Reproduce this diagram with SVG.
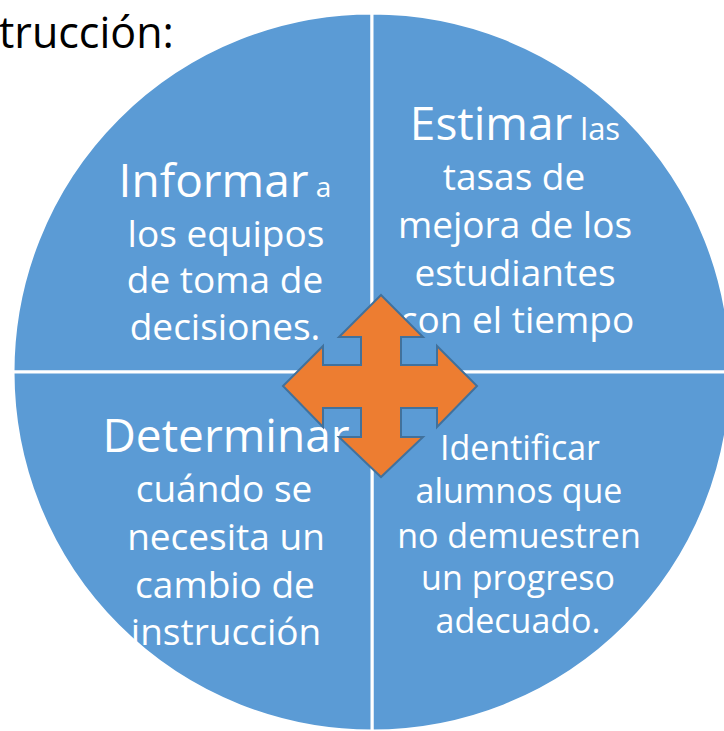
<svg xmlns="http://www.w3.org/2000/svg" width="724" height="731" viewBox="0 0 724 731">
  <style>
    .q { fill: #5B9BD5; stroke: #FFFFFF; stroke-width: 3; }
    .t { font-family: "Open Sans", "Noto Sans", sans-serif; fill: #FFFFFF; text-anchor: middle; font-size: 37px; }
    .big { font-size: 46px; }
    .br { font-size: 34px; }
    .title { font-family: "Open Sans", "Noto Sans", sans-serif; fill: #000000; font-size: 43px; }
    .arrow { fill: #ED7D31; stroke: #41719C; stroke-width: 2; stroke-linejoin: miter; }
  </style>
  <rect x="0" y="0" width="724" height="731" fill="#FFFFFF"/>
  <text class="title" x="-1" y="48">trucción:</text>

  <g id="node-informar">
    <path class="q" d="M372,372 L13,372 A359,359 0 0 1 372,13 Z"/>
    <text class="t" x="225" y="197"><tspan class="big">Informar</tspan><tspan font-size="28"> a</tspan></text>
    <text class="t" x="226" y="247">los equipos</text>
    <text class="t" x="225" y="293">de toma de</text>
    <text class="t" x="225" y="340">decisiones.</text>
  </g>

  <g id="node-estimar">
    <path class="q" d="M372,372 L372,13 A359,359 0 0 1 731,372 Z"/>
    <text class="t" x="515" y="140"><tspan class="big">Estimar</tspan><tspan font-size="31"> las</tspan></text>
    <text class="t" x="514" y="190">tasas de</text>
    <text class="t" x="515" y="238">mejora de los</text>
    <text class="t" x="515" y="286">estudiantes</text>
    <text class="t" x="517" y="333">con el tiempo</text>
  </g>

  <g id="node-identificar">
    <path class="q" d="M372,372 L731,372 A359,359 0 0 1 372,731 Z"/>
    <text class="t br" x="520" y="460">Identificar</text>
    <text class="t br" x="519" y="503">alumnos que</text>
    <text class="t br" x="519" y="548">no demuestren</text>
    <text class="t br" x="518" y="590">un progreso</text>
    <text class="t br" x="518" y="633">adecuado.</text>
  </g>

  <g id="node-determinar">
    <path class="q" d="M372,372 L372,731 A359,359 0 0 1 13,372 Z"/>
    <text class="t big" x="226" y="452">Determinar</text>
    <text class="t" x="224" y="502">cuándo se</text>
    <text class="t" x="226" y="550">necesita un</text>
    <text class="t" x="225" y="598">cambio de</text>
    <text class="t" x="226" y="645">instrucción</text>
  </g>

  <g id="arrow">
    <polygon class="arrow" points="381,295 423,337 401,337 401,365 437,365 437,346 477,386 437,427 437,408 401,408 401,437 423,437 381,477 339,437 361,437 361,408 323,408 323,427 283,386 323,346 323,365 361,365 361,337 339,337"/>
  </g>
</svg>
